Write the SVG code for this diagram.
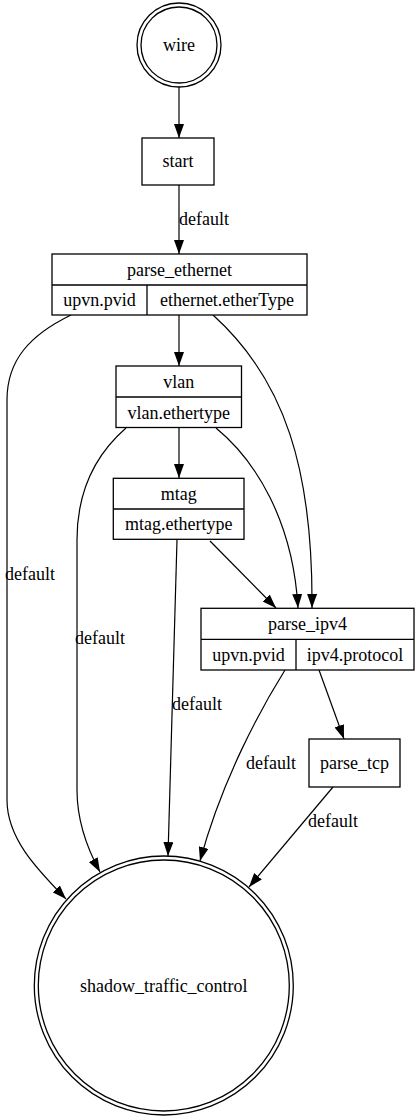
<svg xmlns="http://www.w3.org/2000/svg" width="420" height="1120" viewBox="0 0 420 1120">
<style>
text{font-family:"Liberation Serif","Times New Roman",serif;font-size:18px;fill:#000}
.c{text-anchor:middle}
.n{fill:#fff;stroke:#000;stroke-width:1.3}
.ln{stroke:#000;stroke-width:1.3;fill:none}
.e{stroke:#000;stroke-width:1.2;fill:none;marker-end:url(#ah)}
</style>
<defs>
<marker id="ah" markerUnits="userSpaceOnUse" markerWidth="14" markerHeight="10" viewBox="0 0 14 10" refX="14" refY="5" orient="auto">
<path d="M0,0 L14,5 L0,10 z" fill="#000"/>
</marker>
</defs>
<rect width="420" height="1120" fill="#fff"/>
<g id="edges">
<path class="e" d="M179,87 L179,138"/>
<path class="e" d="M179,185 L179,254"/>
<text x="179" y="225">default</text>
<path class="e" d="M179,315 L179,366"/>
<path class="e" d="M213,315 C285,380 313,470 312,608"/>
<path class="e" d="M71,315 C30,335 7,360 7,400 C7,460 7,760 7,800 C7,840 40,872 66,899"/>
<text x="5" y="580">default</text>
<path class="e" d="M179,428 L179,478"/>
<path class="e" d="M216,428 C255,460 293,520 298,608"/>
<path class="e" d="M126,428 C95,455 77,490 77,540 L77,790 C77,822 88,850 100,872"/>
<text x="75" y="644">default</text>
<path class="e" d="M210,541 L276,608"/>
<path class="e" d="M177,540 L168,856"/>
<text x="172" y="710">default</text>
<path class="e" d="M285,670 C260,710 222,780 200,861"/>
<text x="246" y="769">default</text>
<path class="e" d="M319,670 L344,739"/>
<path class="e" d="M333,787 L249,887"/>
<text x="308" y="827">default</text>
</g>
<g id="wire">
<circle class="n" cx="179" cy="45" r="42"/>
<circle class="n" cx="179" cy="45" r="38"/>
<text class="c" x="179" y="51">wire</text>
</g>
<g id="start">
<rect class="n" x="142" y="138" width="72" height="47"/>
<text class="c" x="178" y="167">start</text>
</g>
<g id="parse_ethernet">
<rect class="n" x="52" y="254" width="255" height="61"/>
<path class="ln" d="M52,285 L307,285 M147,285 L147,315"/>
<text class="c" x="179.5" y="275.5">parse_ethernet</text>
<text class="c" x="99.5" y="306">upvn.pvid</text>
<text class="c" x="227" y="306">ethernet.etherType</text>
</g>
<g id="vlan">
<rect class="n" x="116" y="366" width="125.5" height="61.5"/>
<path class="ln" d="M116,397 L241.5,397"/>
<text class="c" x="178.7" y="387.5">vlan</text>
<text class="c" x="178.7" y="418.5">vlan.ethertype</text>
</g>
<g id="mtag">
<rect class="n" x="113.3" y="478.3" width="130.7" height="61"/>
<path class="ln" d="M113.3,509 L244,509"/>
<text class="c" x="178.7" y="500">mtag</text>
<text class="c" x="178.7" y="530">mtag.ethertype</text>
</g>
<g id="parse_ipv4">
<rect class="n" x="201" y="608.3" width="213" height="61.7"/>
<path class="ln" d="M201,639.3 L414,639.3 M296,639.3 L296,670"/>
<text class="c" x="307.5" y="629.5">parse_ipv4</text>
<text class="c" x="248.5" y="660.5">upvn.pvid</text>
<text class="c" x="355" y="660.5">ipv4.protocol</text>
</g>
<g id="parse_tcp">
<rect class="n" x="309" y="739" width="91" height="48"/>
<text class="c" x="354.5" y="769">parse_tcp</text>
</g>
<g id="shadow_traffic_control">
<circle class="n" cx="163.8" cy="985.5" r="129.5"/>
<circle class="n" cx="163.8" cy="985.5" r="125.5"/>
<text class="c" x="163.8" y="991.5">shadow_traffic_control</text>
</g>
</svg>
